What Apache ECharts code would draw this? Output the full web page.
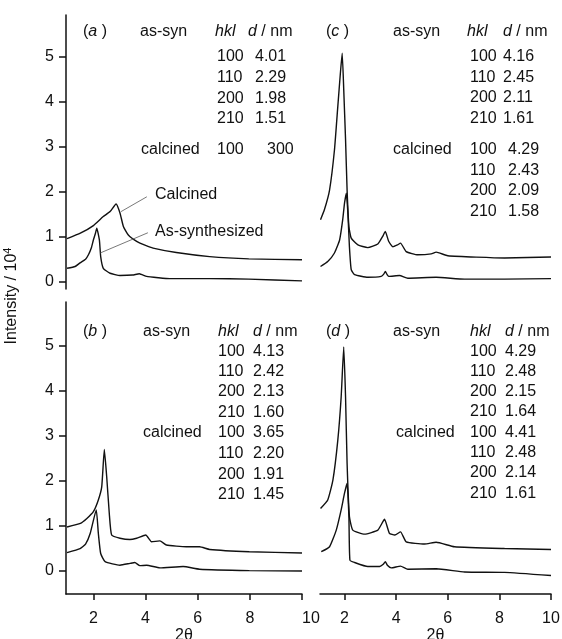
<!DOCTYPE html>
<html>
<head>
<meta charset="utf-8">
<script src="https://cdn.jsdelivr.net/npm/echarts@6/dist/echarts.min.js"></script>
<style>
  html, body { margin: 0; padding: 0; background: #fff; }
  #main { width: 562px; height: 639px; }
</style>
</head>
<body>
<div id="main"></div>
<script>
// XRD patterns, x = 2θ, y = intensity / 10^4
// panel (a)
const aCalcined = [[0.99,0.96],[1.5,1.08],[2.0,1.25],[2.38,1.45],[2.64,1.56],[2.87,1.73],[3.02,1.53],[3.15,1.23],[3.34,1.04],[3.66,0.90],[4.0,0.81],[4.29,0.75],[5.18,0.65],[6.46,0.56],[7.96,0.51],[10,0.49]];
const aAsSyn = [[0.99,0.30],[1.3,0.34],[1.49,0.42],[1.7,0.50],[1.81,0.60],[1.92,0.75],[2.0,0.93],[2.08,1.08],[2.13,1.19],[2.23,0.93],[2.28,0.56],[2.38,0.30],[2.64,0.19],[3.02,0.14],[3.5,0.15],[3.76,0.18],[4.04,0.12],[4.5,0.09],[4.93,0.07],[6.46,0.07],[7.96,0.06],[10,0.02]];
// panel (b)
const bCalcined = [[0.99,0.98],[1.5,1.06],[1.75,1.17],[2.0,1.32],[2.19,1.58],[2.32,1.87],[2.42,2.70],[2.51,2.10],[2.61,1.28],[2.70,0.80],[3.02,0.73],[3.4,0.70],[3.66,0.73],[4.01,0.80],[4.23,0.65],[4.55,0.67],[4.8,0.58],[5.56,0.54],[6.07,0.54],[6.46,0.48],[7.98,0.43],[10,0.40]];
const bAsSyn = [[0.99,0.41],[1.49,0.50],[1.7,0.60],[1.88,0.84],[2.11,1.36],[2.19,0.84],[2.28,0.39],[2.45,0.21],[3.02,0.13],[3.4,0.17],[3.59,0.19],[3.78,0.12],[4.04,0.13],[4.55,0.07],[5.44,0.10],[6.07,0.04],[7.98,0.01],[10,0.0]];
// panel (c)
const cUpper = [[1.07,1.38],[1.22,1.60],[1.42,2.04],[1.61,2.93],[1.74,3.90],[1.84,4.64],[1.91,5.08],[1.97,4.27],[2.04,3.16],[2.10,2.04],[2.17,1.23],[2.26,0.97],[2.52,0.82],[2.90,0.76],[3.29,0.84],[3.48,1.01],[3.58,1.12],[3.71,0.90],[3.87,0.78],[4.05,0.82],[4.17,0.86],[4.39,0.67],[4.84,0.60],[5.36,0.62],[5.55,0.66],[6.0,0.58],[8.2,0.53],[10,0.55]];
const cLower = [[1.07,0.34],[1.35,0.45],[1.61,0.64],[1.81,0.93],[1.93,1.38],[2.0,1.75],[2.07,1.97],[2.13,1.53],[2.19,0.78],[2.26,0.27],[2.39,0.16],[2.9,0.10],[3.42,0.12],[3.52,0.17],[3.58,0.23],[3.65,0.16],[3.71,0.12],[4.13,0.14],[4.45,0.08],[5.55,0.10],[6.65,0.06],[8.2,0.06],[10,0.07]];
// panel (d)
const dUpper = [[1.07,1.39],[1.35,1.58],[1.55,2.02],[1.74,2.91],[1.87,3.87],[1.97,4.98],[2.04,3.87],[2.10,2.39],[2.19,1.21],[2.32,0.91],[2.78,0.82],[3.29,0.91],[3.55,1.15],[3.74,0.84],[3.95,0.80],[4.17,0.87],[4.39,0.65],[5.1,0.60],[5.55,0.64],[6.26,0.54],[8.2,0.50],[10,0.48]];
const dLower = [[1.10,0.43],[1.42,0.54],[1.68,0.91],[1.87,1.36],[2.0,1.73],[2.10,1.95],[2.17,1.21],[2.21,0.24],[2.39,0.19],[2.9,0.10],[3.36,0.10],[3.5,0.15],[3.58,0.21],[3.66,0.13],[3.81,0.07],[4.17,0.11],[4.45,0.04],[5.55,0.05],[6.65,-0.02],[8.2,-0.03],[10,-0.1]];

const xTicks = [2, 4, 6, 8, 10];
const yTicks = [0, 1, 2, 3, 4, 5];

// hkl / d tables
const hklRows = ['100', '110', '200', '210'];
const dAsynA = ['4.01', '2.29', '1.98', '1.51'];
const dCalcA = ['300'];
const dAsynB = ['4.13', '2.42', '2.13', '1.60'];
const dCalcB = ['3.65', '2.20', '1.91', '1.45'];
const dAsynC = ['4.16', '2.45', '2.11', '1.61'];
const dCalcC = ['4.29', '2.43', '2.09', '1.58'];
const dAsynD = ['4.29', '2.48', '2.15', '1.64'];
const dCalcD = ['4.41', '2.48', '2.14', '1.61'];

const FONT = '"Liberation Sans", Arial, Helvetica, sans-serif';
const FS = 16;

const chart = echarts.init(document.getElementById('main'));

function txt(x, y, text, extra) {
  return {
    type: 'text', x: x, y: y, silent: true,
    style: Object.assign({
      text: text, fontSize: FS, fontFamily: FONT, fill: '#111',
      textVerticalAlign: 'middle', rich: { i: { fontStyle: 'italic', fontSize: FS, fontFamily: FONT, fill: '#111' } }
    }, extra || {})
  };
}

// one table of annotations per panel
function table(p) {
  const out = [];
  out.push(txt(p.tagX, p.headY, '({i|' + p.tag + '} )'));
  out.push(txt(p.labX, p.headY, 'as-syn'));
  out.push(txt(p.hklHeadX, p.headY, '{i|hkl}'));
  out.push(txt(p.dHeadX, p.headY, '{i|d} / nm'));
  p.asRows.forEach((y, i) => {
    out.push(txt(p.hklX, y, hklRows[i]));
    out.push(txt(p.dX, y, p.dAsyn[i]));
  });
  out.push(txt(p.calcLabX, p.calcRows[0], 'calcined'));
  p.calcRows.forEach((y, i) => {
    out.push(txt(p.hklX, y, hklRows[i]));
    out.push(txt(p.dCalcX, y, p.dCalc[i]));
  });
  return out;
}

const panels = [
  { tag: 'a', tagX: 83, headY: 32, labX: 140, calcLabX: 141, hklHeadX: 215, hklX: 217, dHeadX: 248, dX: 255, dCalcX: 267,
    asRows: [57, 78, 99, 119], calcRows: [150], dAsyn: dAsynA, dCalc: dCalcA },
  { tag: 'b', tagX: 83, headY: 332, labX: 143, calcLabX: 143, hklHeadX: 218, hklX: 218, dHeadX: 253, dX: 253, dCalcX: 253,
    asRows: [352, 372, 392, 413], calcRows: [433, 454, 475, 495], dAsyn: dAsynB, dCalc: dCalcB },
  { tag: 'c', tagX: 326, headY: 32, labX: 393, calcLabX: 393, hklHeadX: 467, hklX: 470, dHeadX: 503, dX: 503, dCalcX: 508,
    asRows: [57, 78, 98, 119], calcRows: [150, 171, 191, 212], dAsyn: dAsynC, dCalc: dCalcC },
  { tag: 'd', tagX: 326, headY: 332, labX: 393, calcLabX: 396, hklHeadX: 470, hklX: 470, dHeadX: 505, dX: 505, dCalcX: 505,
    asRows: [352, 372, 392, 412], calcRows: [433, 453, 473, 494], dAsyn: dAsynD, dCalc: dCalcD }
];

let graphics = [];
panels.forEach(p => { graphics = graphics.concat(table(p)); });
graphics.push(txt(155, 195, 'Calcined'));
graphics.push(txt(155, 232, 'As-synthesized'));
graphics.push({
  type: 'text', x: 12, y: 296, rotation: Math.PI / 2, silent: true,
  style: {
    text: 'Intensity / 10{sup|4}', fontSize: FS, fontFamily: FONT, fill: '#111',
    textAlign: 'center', textVerticalAlign: 'middle',
    rich: { sup: { fontSize: 11, fontFamily: FONT, fill: '#111', verticalAlign: 'top', padding: [0, 0, 8, 0] } }
  }
});

const axisLineStyle = { color: '#111', width: 1.5 };

function xAxis(grid, min, show, alignMax) {
  return {
    type: 'value', gridIndex: grid, min: min, max: 10, show: show,
    name: '2θ', nameLocation: 'middle', nameGap: 34,
    nameTextStyle: { fontSize: FS, fontFamily: FONT, color: '#111' },
    axisLine: { show: true, onZero: false, lineStyle: axisLineStyle },
    axisTick: { show: true, length: 6, customValues: xTicks, lineStyle: axisLineStyle },
    axisLabel: { customValues: xTicks, fontSize: FS, fontFamily: FONT, color: '#111', margin: 17, alignMaxLabel: alignMax },
    splitLine: { show: false }
  };
}

function yAxis(grid, min, max, show) {
  return {
    type: 'value', gridIndex: grid, min: min, max: max, show: show,
    axisLine: { show: true, lineStyle: axisLineStyle },
    axisTick: { show: true, length: 7, customValues: yTicks, lineStyle: axisLineStyle },
    axisLabel: { customValues: yTicks, fontSize: FS, fontFamily: FONT, color: '#111', margin: 12 },
    splitLine: { show: false }
  };
}

function curve(data, xi, extra) {
  return Object.assign({
    type: 'line', xAxisIndex: xi, yAxisIndex: xi, data: data,
    showSymbol: false, smooth: 0.15, silent: true, animation: false,
    lineStyle: { color: '#111', width: 1.4 }
  }, extra || {});
}

function leader(from, to) {
  return [{ coord: from }, { coord: to }];
}

// fixed pixel boxes; the bottom axis name is allowed to run off the page
function grid(left, top, width, height) {
  return { left: left, top: top, width: width, height: height, containLabel: false, outerBoundsMode: 'none' };
}

const option = {
  animation: false,
  grid: [
    grid(66, 15, 236, 274),
    grid(66, 302, 236, 292),
    grid(320, 15, 231, 274),
    grid(320, 302, 231, 292)
  ],
  xAxis: [
    xAxis(0, 0.95, false),
    xAxis(1, 0.95, true, 'left'),
    xAxis(2, 1.05, false),
    xAxis(3, 1.05, true)
  ],
  yAxis: [
    yAxis(0, -0.16, 5.93, true),
    yAxis(1, -0.51, 5.98, true),
    yAxis(2, -0.16, 5.93, false),
    yAxis(3, -0.51, 5.98, false)
  ],
  series: [
    curve(aCalcined, 0, {
      markLine: {
        silent: true, symbol: 'none', label: { show: false },
        lineStyle: { color: '#555', width: 0.8, type: 'solid' },
        data: [leader([3.06, 1.56], [4.05, 1.89]), leader([2.26, 0.64], [4.09, 1.09])]
      }
    }),
    curve(aAsSyn, 0),
    curve(bCalcined, 1),
    curve(bAsSyn, 1),
    curve(cUpper, 2),
    curve(cLower, 2),
    curve(dUpper, 3),
    curve(dLower, 3)
  ],
  graphic: graphics
};

chart.setOption(option);
</script>
</body>
</html>
